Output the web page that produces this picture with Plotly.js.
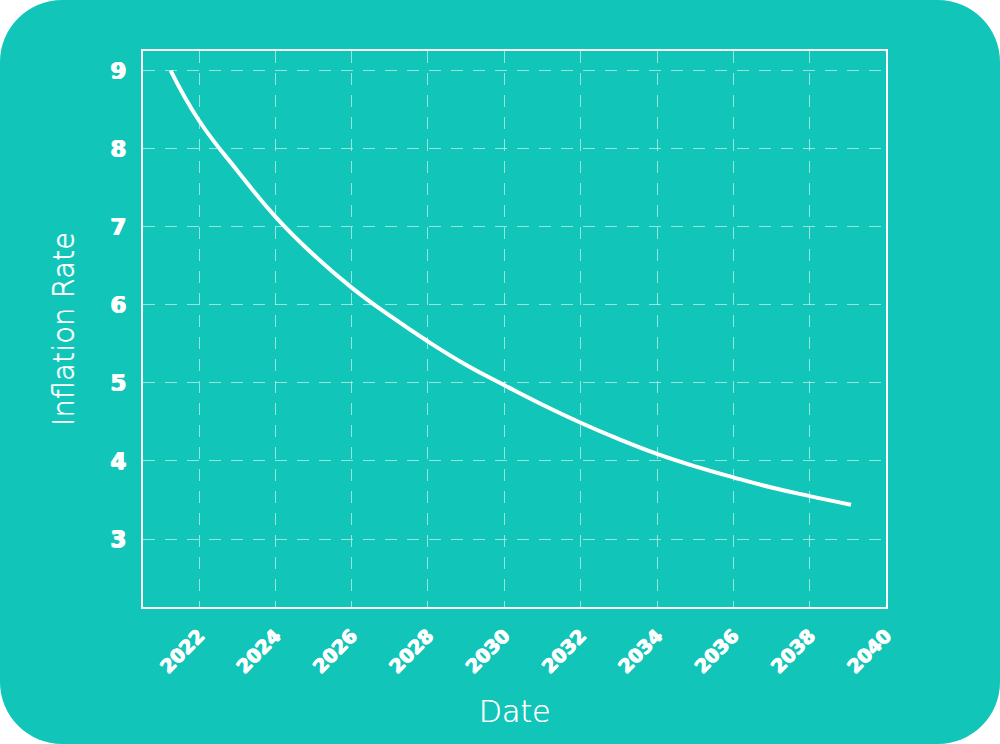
<!DOCTYPE html>
<html>
<head>
<meta charset="utf-8">
<script src="https://cdn.plot.ly/plotly-3.0.1.min.js"></script>
<style>
  html, body { margin: 0; padding: 0; background: #ffffff; }
  #card {
    width: 1000px; height: 744px;
    background: #12c5b9;
    border-radius: 62px;
    overflow: hidden;
  }
  #chart { width: 1000px; height: 744px; }
</style>
</head>
<body>
<div id="card"><div id="chart"></div></div>
<script>
// values
const dates = [
    "2021-04-05", "2022-01-01", "2023-01-01", "2024-01-01", "2025-01-01",
    "2026-01-01", "2027-01-01", "2028-01-01", "2029-01-01", "2030-01-01",
    "2031-01-01", "2032-01-01", "2033-01-01", "2034-01-01", "2035-01-01",
    "2036-01-01", "2037-01-01", "2038-01-01", "2039-01-31"
]
const inflation = [
    9.00, 8.36, 7.72, 7.13, 6.64,
    6.22, 5.86, 5.53, 5.23, 4.97,
    4.72, 4.49, 4.28, 4.09, 3.93,
    3.79, 3.66, 3.55, 3.44
]
const yTicks = [3, 4, 5, 6, 7, 8, 9]

const white = "#ffffff"
const gridColor = "rgba(255,255,255,0.55)"
const tickFont = "'DejaVu Sans', 'Noto Sans', sans-serif"
const titleFont = "'DejaVu Sans', 'Open Sans', sans-serif"
// fake a heavier weight for the tick digits
const heavy = "0.7px 0 0 #fff, -0.7px 0 0 #fff, 0 0.5px 0 #fff"

var trace = {
    x: dates,
    y: inflation,
    type: "scatter",
    mode: "lines",
    line: {color: white, width: 4, shape: "spline", smoothing: 1.3},
    hoverinfo: "skip"
}

var layout = {
    width: 1000,
    height: 744,
    paper_bgcolor: "rgba(0,0,0,0)",
    plot_bgcolor: "rgba(0,0,0,0)",
    margin: {l: 143, r: 114, t: 51, b: 137},
    showlegend: false,
    hovermode: false,
    xaxis: {
        type: "date",
        range: ["2020-07-14", "2040-01-01"],
        tick0: "2022-01-01",
        dtick: "M24",
        tickformat: "%Y",
        tickangle: -45,
        ticks: "",
        ticklabelstandoff: 8,
        tickfont: {family: tickFont, size: 19, color: white, weight: "bold", shadow: heavy},
        showgrid: true,
        gridcolor: gridColor,
        gridwidth: 1,
        griddash: "12px,10px",
        zeroline: false,
        showline: true,
        linecolor: white,
        linewidth: 2,
        mirror: true,
        title: {
            text: "Date",
            standoff: 25,
            font: {family: titleFont, size: 30, color: white, weight: 200, shadow: "0.4px 0 0 #fff"}
        }
    },
    yaxis: {
        range: [2.13, 9.25],
        tickvals: yTicks,
        ticktext: yTicks.map(String),
        ticks: "",
        ticklabelstandoff: 10,
        tickfont: {family: tickFont, size: 23, color: white, weight: "bold", shadow: heavy},
        showgrid: true,
        gridcolor: gridColor,
        gridwidth: 1,
        griddash: "12px,10px",
        zeroline: false,
        showline: true,
        linecolor: white,
        linewidth: 2,
        mirror: true,
        title: {
            text: "Inflation Rate",
            standoff: 28,
            font: {family: titleFont, size: 29, color: white, weight: 200, shadow: "0 0.4px 0 #fff"}
        }
    }
}

Plotly.newPlot("chart", [trace], layout, {displayModeBar: false, staticPlot: true})
</script>
</body>
</html>
